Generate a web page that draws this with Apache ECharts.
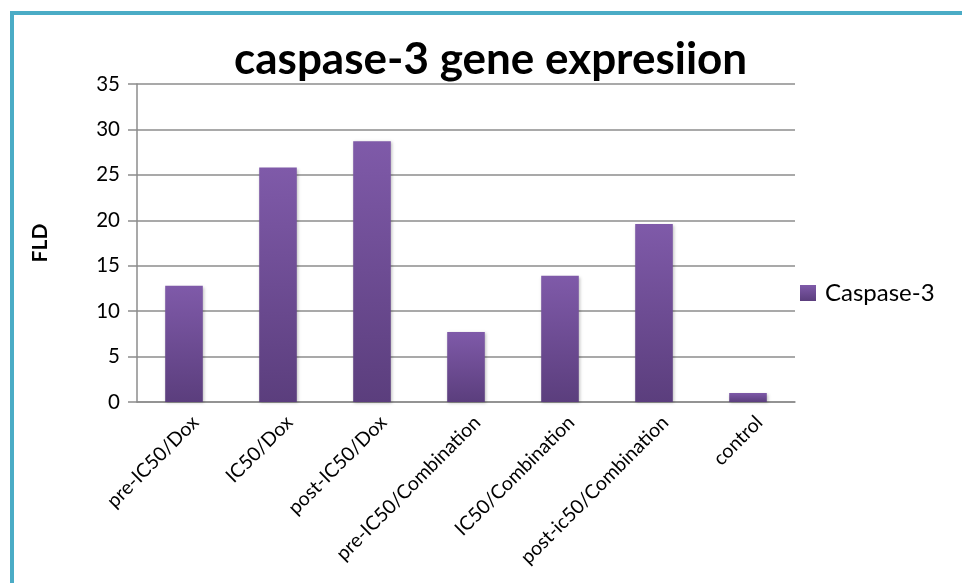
<!DOCTYPE html>
<html>
<head>
<meta charset="utf-8">
<script src="https://cdn.jsdelivr.net/npm/echarts@6/dist/echarts.min.js"></script>
<style>
  html, body { margin: 0; padding: 0; background: #fff; }
  #frame {
    position: absolute; left: 10px; top: 11px; width: 960px; height: 580px;
    border-top: 4px solid #4bacc6; border-left: 4px solid #4bacc6;
  }
  #chart { position: absolute; left: 0; top: 0; width: 962px; height: 583px; }
</style>
</head>
<body>
<div id="frame"></div>
<div id="chart"></div>
<script>
  var categories = ['pre-IC50/Dox', 'IC50/Dox', 'post-IC50/Dox', 'pre-IC50/Combination',
    'IC50/Combination', 'post-ic50/Combination', 'control']
  var caspase3 = [12.8, 25.8, 28.7, 7.7, 13.9, 19.6, 1.0]
  var yTicks = [0, 5, 10, 15, 20, 25, 30, 35]

  var chart = echarts.init(document.getElementById('chart'))
  chart.setOption({
    textStyle: { fontFamily: 'Lato' },
    title: {
      text: 'caspase-3 gene expresiion',
      left: 229,
      top: 33,
      textStyle: { fontSize: 44, fontWeight: 'bold', color: '#000', fontFamily: 'Lato' }
    },
    legend: {
      orient: 'vertical',
      left: 795,
      top: 276,
      itemWidth: 16,
      itemHeight: 16,
      itemGap: 8,
      icon: 'rect',
      textStyle: { fontSize: 24, color: '#000', fontFamily: 'Lato', padding: [0, 0, 0, 4] },
      data: ['Caspase-3']
    },
    grid: { left: 137, right: 167, top: 84, bottom: 181, containLabel: false },
    xAxis: {
      type: 'category',
      data: categories,
      axisLine: { lineStyle: { color: '#8c8c8c', width: 1.5 } },
      axisTick: { show: false },
      axisLabel: {
        interval: 0,
        rotate: 45,
        margin: 6,
        fontSize: 19.5,
        lineHeight: 32,
        color: '#000',
        fontFamily: 'Lato',
        verticalAlign: 'top'
      }
    },
    yAxis: {
      type: 'value',
      min: yTicks[0],
      max: yTicks[yTicks.length - 1],
      interval: 5,
      name: 'FLD',
      nameLocation: 'middle',
      nameGap: 86,
      nameRotate: 90,
      nameTextStyle: { fontSize: 21, fontWeight: 'bold', color: '#000', fontFamily: 'Lato' },
      axisLine: { show: true, lineStyle: { color: '#8c8c8c', width: 1.5 } },
      axisTick: { show: true, length: 9, inside: false, lineStyle: { color: '#8c8c8c', width: 1.5 } },
      axisLabel: { fontSize: 20.5, color: '#000', margin: 17, fontFamily: 'Lato' },
      splitLine: { lineStyle: { color: '#8c8c8c', width: 1.5 } }
    },
    series: [{
      name: 'Caspase-3',
      type: 'bar',
      data: caspase3,
      barWidth: '40%',
      itemStyle: {
        color: new echarts.graphic.LinearGradient(0, 0, 0, 1, [
          { offset: 0, color: '#7f5aa9' },
          { offset: 1, color: '#5b3e7d' }
        ]),
        shadowBlur: 3,
        shadowColor: 'rgba(0,0,0,0.25)',
        shadowOffsetX: 1,
        shadowOffsetY: 1
      }
    }],
    animation: false
  })
</script>
</body>
</html>
